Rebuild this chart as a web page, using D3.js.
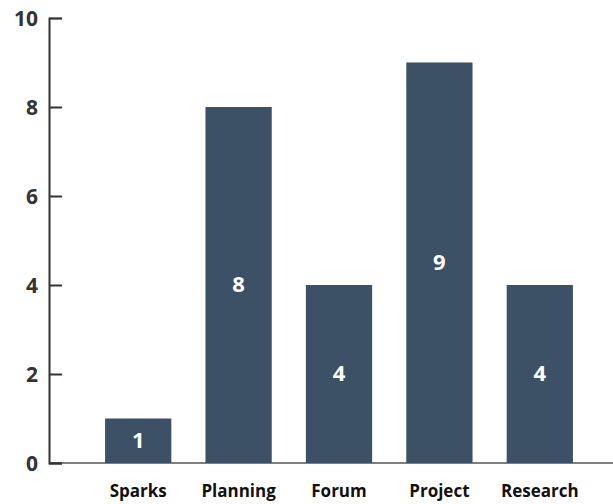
<!DOCTYPE html>
<html>
<head>
<meta charset="utf-8">
<script src="https://cdn.jsdelivr.net/npm/d3@7"></script>
<style>
  html, body { margin: 0; padding: 0; background: #fff; }
  svg { display: block; }
  text { font-family: "Open Sans", sans-serif; font-weight: bold; }
</style>
</head>
<body>
<svg id="chart" width="613" height="504"></svg>
<script>
const categories = ["Sparks", "Planning", "Forum", "Project", "Research"];
const values = [1, 8, 4, 9, 4];
const yTicks = [0, 2, 4, 6, 8, 10];

const svg = d3.select("#chart");
const x = d3.scaleBand().domain(categories).range([88, 590]).paddingInner(0.34).paddingOuter(0.17);
const y = d3.scaleLinear().domain([0, 10]).range([463, 18]);

// x axis baseline
svg.append("line")
  .attr("x1", 49).attr("x2", 613)
  .attr("y1", y(0)).attr("y2", y(0))
  .attr("stroke", "#555").attr("stroke-width", 1.5);

// bars
svg.append("g").selectAll("rect")
  .data(values)
  .join("rect")
  .attr("x", (d, i) => x(categories[i]))
  .attr("width", x.bandwidth())
  .attr("y", d => y(d))
  .attr("height", d => y(0) - y(d))
  .attr("fill", "#3d5166");

// value labels
svg.append("g").selectAll("text")
  .data(values)
  .join("text")
  .attr("x", (d, i) => x(categories[i]) + x.bandwidth() / 2)
  .attr("y", d => (y(d) + y(0)) / 2)
  .attr("dy", "0.33em")
  .attr("text-anchor", "middle")
  .attr("fill", "#fff")
  .attr("font-size", 22)
  .text(d => d);

// y axis
const yAxis = d3.axisRight(y).tickValues(yTicks).tickSize(13).tickFormat(() => "");
const gy = svg.append("g").attr("transform", "translate(49,0)").call(yAxis);
gy.select(".domain").attr("stroke", "#333").attr("stroke-width", 2);
gy.selectAll(".tick line").attr("stroke", "#333").attr("stroke-width", 2);
gy.selectAll(".tick line").filter(d => d === 10).attr("stroke-width", 1.5);

svg.append("g").selectAll("text")
  .data(yTicks)
  .join("text")
  .attr("x", 38)
  .attr("y", d => y(d))
  .attr("dy", "0.38em")
  .attr("text-anchor", "end")
  .attr("fill", "#333")
  .attr("font-size", 21)
  .text(d => d);

// x labels
const xAxis = d3.axisBottom(x).tickSize(0).tickPadding(0);
const gx = svg.append("g").attr("transform", "translate(0,497)").call(xAxis);
gx.select(".domain").remove();
gx.selectAll(".tick text")
  .attr("dy", 0)
  .attr("fill", "#111")
  .attr("font-size", 17)
  .style("font-family", '"Open Sans", sans-serif')
  .style("font-weight", "bold");
</script>
</body>
</html>
